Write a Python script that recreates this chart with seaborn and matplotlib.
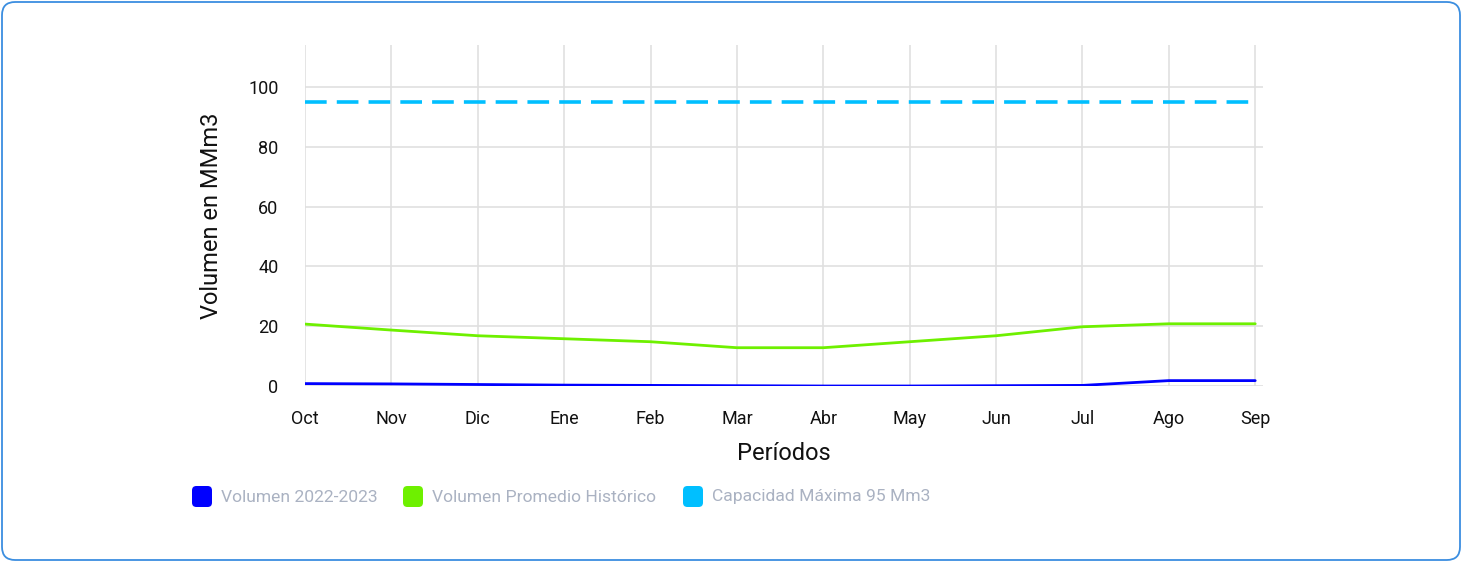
import matplotlib
matplotlib.use("Agg")
import matplotlib.pyplot as plt
from matplotlib.patches import FancyBboxPatch
import seaborn as sns
import pandas as pd

# Monthly reservoir volumes (MMm3)
periodos = ["Oct", "Nov", "Dic", "Ene", "Feb", "Mar", "Abr", "May", "Jun", "Jul", "Ago", "Sep"]
volumen_actual = [0.8, 0.7, 0.5, 0.3, 0.2, 0.1, 0.0, 0.0, 0.1, 0.2, 1.8, 1.8]
volumen_historico = [20.7, 18.7, 16.8, 15.8, 14.8, 12.8, 12.8, 14.8, 16.8, 19.8, 20.8, 20.8]
capacidad_maxima = [95] * 12

series_names = ["Volumen 2022-2023", "Volumen Promedio Histórico", "Capacidad Máxima 95 Mm3"]
series_colors = ["#0000FF", "#6EF000", "#00BFFF"]

df = pd.DataFrame({
    "x": list(range(len(periodos))) * 3,
    "valor": volumen_actual + volumen_historico + capacidad_maxima,
    "serie": [series_names[0]] * 12 + [series_names[1]] * 12 + [series_names[2]] * 12,
})

sns.set_theme(style="white")
plt.rcParams["font.family"] = ["Roboto", "DejaVu Sans"]

fig = plt.figure(figsize=(14.62, 5.62), dpi=100)
W, H = 1462, 562
ax = fig.add_axes([305 / W, 1 - 386 / H, (1263 - 305) / W, (386 - 45) / H])

sns.lineplot(
    data=df, x="x", y="valor", hue="serie", style="serie",
    palette=dict(zip(series_names, series_colors)),
    dashes={series_names[0]: "", series_names[1]: "", series_names[2]: (6, 2.8)},
    linewidth=2.0, legend=False, ax=ax, zorder=3,
)
for line in ax.lines:
    if line.get_linestyle() not in ("-", "solid"):
        line.set_linewidth(2.6)

ax.set_xlim(0, 11.09)
ax.set_ylim(0, 114)
ax.set_xticks(range(len(periodos)))
ax.set_xticklabels(periodos)
ax.set_yticks([0, 20, 40, 60, 80, 100])
ax.grid(True, color="#e0e0e0", linewidth=1.2)
ax.set_axisbelow(True)
for s in ax.spines.values():
    s.set_visible(False)
ax.tick_params(axis="x", length=6.5, width=1.2, color="#e0e0e0", pad=11, labelsize=13, labelcolor="#111111")
ax.tick_params(axis="y", length=6, width=1.2, color="#e0e0e0", pad=13, labelsize=13, labelcolor="#111111")
ax.set_xlabel("Períodos", fontsize=17, color="#111111", labelpad=10)
ax.set_ylabel("Volumen en MMm3", fontsize=17, color="#111111", labelpad=18)

# Card border
card = FancyBboxPatch((2 / W, 2 / H), (W - 4) / W, (H - 4) / H,
                      boxstyle="round,pad=0,rounding_size=0.009",
                      transform=fig.transFigure, fill=False,
                      edgecolor="#3b8ee0", linewidth=1.3, mutation_aspect=W / H)
fig.patches.append(card)

# Legend with rounded swatches
legend_x = [192, 403, 683]
for x0, name, col in zip(legend_x, series_names, series_colors):
    sw = FancyBboxPatch((x0 / W, 1 - 507 / H), 20 / W, 21 / H,
                        boxstyle="round,pad=0,rounding_size=0.003",
                        transform=fig.transFigure, facecolor=col, edgecolor="none",
                        mutation_aspect=W / H)
    fig.patches.append(sw)
    fig.text((x0 + 29) / W, 1 - 497 / H, name, fontsize=12.6, color="#aab2c2",
             va="center", ha="left")

fig.savefig("out.png", dpi=100)
